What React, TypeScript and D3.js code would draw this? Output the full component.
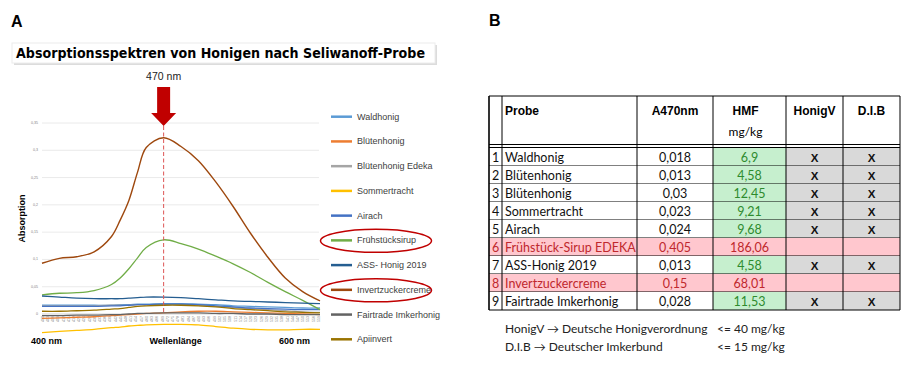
import React, { useEffect, useRef } from 'react';
import * as d3 from 'd3';

// Panel A: absorption spectra
const wavelengths = [400, 410, 420, 430, 440, 445, 450, 455, 460, 470, 480, 490, 500, 510, 520, 530, 540, 550, 560];

const waldhonig = [0.016, 0.016, 0.016, 0.016, 0.016, 0.017, 0.017, 0.018, 0.018, 0.019, 0.019, 0.018, 0.017, 0.015, 0.014, 0.013, 0.012, 0.011, 0.011];
const bluetenhonig = [-0.008, -0.007, -0.006, -0.005, -0.003, -0.002, -0.001, 0.0, 0.001, 0.002, 0.004, 0.005, 0.005, 0.004, 0.003, 0.002, 0.001, 0.0, -0.001];
const bluetenhonigEdeka = [0.015, 0.015, 0.015, 0.015, 0.016, 0.016, 0.016, 0.017, 0.017, 0.017, 0.017, 0.016, 0.014, 0.012, 0.01, 0.008, 0.006, 0.004, 0.003];
const sommertracht = [-0.034, -0.032, -0.03, -0.028, -0.025, -0.024, -0.022, -0.021, -0.02, -0.019, -0.019, -0.02, -0.023, -0.026, -0.028, -0.029, -0.029, -0.028, -0.028];
const airach = [0.014, 0.014, 0.014, 0.014, 0.015, 0.015, 0.016, 0.017, 0.017, 0.018, 0.018, 0.017, 0.015, 0.013, 0.011, 0.01, 0.009, 0.008, 0.008];
const fruehstuecksirup = [0.035, 0.038, 0.039, 0.043, 0.054, 0.066, 0.083, 0.103, 0.122, 0.136, 0.129, 0.119, 0.106, 0.092, 0.076, 0.058, 0.041, 0.025, 0.008];
const assHonig = [0.033, 0.031, 0.029, 0.028, 0.028, 0.028, 0.029, 0.03, 0.031, 0.031, 0.03, 0.028, 0.026, 0.024, 0.023, 0.022, 0.021, 0.02, 0.019];
const invertzuckercreme = [0.093, 0.102, 0.105, 0.114, 0.142, 0.172, 0.208, 0.26, 0.305, 0.323, 0.307, 0.281, 0.242, 0.197, 0.148, 0.104, 0.066, 0.041, 0.024];
const fairtrade = [-0.003, -0.003, -0.002, -0.002, -0.001, -0.001, 0.0, 0.001, 0.001, 0.002, 0.002, 0.002, 0.001, 0.001, 0.0, 0.0, -0.001, -0.001, -0.001];
const apiinvert = [0.005, 0.005, 0.006, 0.007, 0.009, 0.01, 0.012, 0.014, 0.015, 0.016, 0.016, 0.015, 0.013, 0.01, 0.008, 0.006, 0.004, 0.003, 0.002];

const seriesNames = ['Waldhonig', 'Blütenhonig', 'Blütenhonig Edeka', 'Sommertracht', 'Airach', 'Frühstücksirup', 'ASS- Honig 2019', 'Invertzuckercreme', 'Fairtrade Imkerhonig', 'Apiinvert'];
const seriesValues = [waldhonig, bluetenhonig, bluetenhonigEdeka, sommertracht, airach, fruehstuecksirup, assHonig, invertzuckercreme, fairtrade, apiinvert];
const seriesColors = ['#5B9BD5', '#ED7D31', '#A5A5A5', '#FFC000', '#4472C4', '#70AD47', '#255E91', '#9E480E', '#636363', '#997300'];
const circledSeries = ['Frühstücksirup', 'Invertzuckercreme'];

const yTicks = [0, 0.05, 0.1, 0.15, 0.2, 0.25, 0.3, 0.35];
const yTickLabels = ['0', '0,05', '0,1', '0,15', '0,2', '0,25', '0,3', '0,35'];
const xTickValues = d3.range(400, 561, 3);
const markedWavelength = 470;

// Panel B: table
const probeNames = ['Waldhonig', 'Blütenhonig', 'Blütenhonig', 'Sommertracht', 'Airach', 'Frühstück-Sirup EDEKA', 'ASS-Honig 2019', 'Invertzuckercreme', 'Fairtrade Imkerhonig'];
const a470Values = [0.018, 0.013, 0.03, 0.023, 0.024, 0.405, 0.013, 0.15, 0.028];
const hmfValues = [6.9, 4.58, 12.45, 9.21, 9.68, 186.06, 4.58, 68.01, 11.53];
const honigVLimit = 40;
const dibLimit = 15;
const headerLabels = ['', 'Probe', 'A470nm', 'HMF', 'HonigV', 'D.I.B'];
const footnotes = [
  ['HonigV \u2192 Deutsche Honigverordnung', '<= 40 mg/kg'],
  ['D.I.B \u2192 Deutscher Imkerbund', '<= 15 mg/kg'],
];

const de = (v: number) => String(v).replace('.', ',');

const App = () => {
  const svgRef = useRef<SVGSVGElement | null>(null);

  useEffect(() => {
    const svg = d3.select(svgRef.current);
    svg.selectAll('*').remove();

    const arial = 'Liberation Sans, Arial, sans-serif';
    const body = 'Lato, Open Sans, sans-serif';

    // ---------- Panel A ----------
    svg.append('text').attr('x', 11).attr('y', 27).text('A')
      .style('font-family', arial).style('font-weight', 'bold').style('font-size', '16px');

    svg.append('rect').attr('x', 14).attr('y', 45).attr('width', 423).attr('height', 20).attr('fill', '#dcdcdc');
    svg.append('rect').attr('x', 12).attr('y', 43).attr('width', 423).attr('height', 20)
      .attr('fill', '#fff').attr('stroke', '#ececec');
    svg.append('text').attr('x', 16).attr('y', 58)
      .attr('textLength', 409).attr('lengthAdjust', 'spacingAndGlyphs')
      .text('Absorptionsspektren von Honigen nach Seliwanoff-Probe')
      .style('font-family', 'DejaVu Sans, sans-serif').style('font-weight', 'bold').style('font-size', '13.5px');

    const x = d3.scaleLinear().domain([400, 560]).range([42, 320]);
    const y = d3.scaleLinear().domain([0, 0.35]).range([314, 123]);

    const grid = svg.append('g');
    yTicks.forEach((t, i) => {
      grid.append('line').attr('x1', 42).attr('x2', 319).attr('y1', y(t)).attr('y2', y(t))
        .attr('stroke', t === 0 ? '#c8c8c8' : '#e4e4e4').attr('stroke-width', 0.8);
      grid.append('text').attr('x', 38).attr('y', y(t)).attr('text-anchor', 'end')
        .attr('dominant-baseline', 'central').text(yTickLabels[i])
        .style('font-family', arial).style('font-size', '3.6px').style('fill', '#808080');
    });

    const xAxis = svg.append('g').attr('transform', `translate(0,${y(0)})`)
      .call(d3.axisBottom(x).tickValues(xTickValues).tickSize(0).tickPadding(1.5).tickFormat(d => String(d)));
    xAxis.select('.domain').remove();
    xAxis.selectAll('text')
      .attr('transform', 'rotate(-90)').attr('text-anchor', 'end').attr('dy', '0.32em').attr('x', -2).attr('y', 0)
      .style('font-family', arial).style('font-size', '3.6px').style('fill', '#7a7a7a');

    svg.append('text').attr('transform', `translate(25,${y(0.175)}) rotate(-90)`).attr('text-anchor', 'middle')
      .text('Absorption').style('font-family', arial).style('font-weight', 'bold').style('font-size', '9px');

    const line = d3.line<number>()
      .x((_, i) => x(wavelengths[i]))
      .y(d => y(d))
      .curve(d3.curveCatmullRom.alpha(0.5));

    seriesValues.forEach((vals, i) => {
      svg.append('path').attr('d', line(vals))
        .attr('fill', 'none').attr('stroke', seriesColors[i])
        .attr('stroke-width', i === 7 ? 1.4 : 1.3);
    });

    // 470 nm marker
    const mx = x(markedWavelength);
    svg.append('line').attr('x1', mx).attr('x2', mx).attr('y1', y(0.35) + 3).attr('y2', y(0))
      .attr('stroke', '#DD5555').attr('stroke-width', 1).attr('stroke-dasharray', '4,2.5');
    const tipY = y(0.35) + 3;
    svg.append('path')
      .attr('d', `M${mx - 6.5},${tipY - 39} H${mx + 6.5} V${tipY - 13} H${mx + 12.5} L${mx},${tipY} L${mx - 12.5},${tipY - 13} H${mx - 6.5} Z`)
      .attr('fill', '#C00000');
    svg.append('text').attr('x', mx).attr('y', 80).attr('text-anchor', 'middle')
      .text(`${markedWavelength} nm`).style('font-family', arial).style('font-size', '10.5px').style('fill', '#222');

    [['400 nm', 31, 'start'], ['Wellenlänge', mx + 12, 'middle'], ['600 nm', 310, 'end']].forEach(([t, tx, anchor]) => {
      svg.append('text').attr('x', tx as number).attr('y', 344).attr('text-anchor', anchor as string).text(t as string)
        .style('font-family', arial).style('font-weight', 'bold').style('font-size', '9px');
    });

    // legend
    const ly = d3.scalePoint<string>().domain(seriesNames).range([116.7, 339.3]);
    seriesNames.forEach((name, i) => {
      svg.append('line').attr('x1', 331).attr('x2', 352).attr('y1', ly(name)!).attr('y2', ly(name)!)
        .attr('stroke', seriesColors[i]).attr('stroke-width', 2.5);
      svg.append('text').attr('x', 357).attr('y', ly(name)!).attr('dominant-baseline', 'central').text(name)
        .style('font-family', arial).style('font-size', '9px').style('fill', '#404040');
    });
    circledSeries.forEach(name => {
      svg.append('ellipse').attr('cx', 376).attr('cy', ly(name)! + 0.5).attr('rx', 55.5).attr('ry', 11.5)
        .attr('fill', 'none').attr('stroke', '#C00000').attr('stroke-width', 1.5);
    });

    // ---------- Panel B ----------
    svg.append('text').attr('x', 489).attr('y', 26).text('B')
      .style('font-family', arial).style('font-weight', 'bold').style('font-size', '16px');

    const colEdges = [489, 502, 637, 713, 786, 843, 900];
    const headerTop = 96;
    const rows = d3.scaleBand<number>().domain(d3.range(probeNames.length)).range([148, 310]);
    const tb = svg.append('g');

    probeNames.forEach((name, r) => {
      const hmf = hmfValues[r];
      const okV = hmf <= honigVLimit;
      const okD = hmf <= dibLimit;
      const bad = !okV;
      const top = rows(r)!;
      const h = rows.bandwidth();
      const cy = top + h / 2;
      const fills = bad
        ? ['#FFC7CE', '#FFC7CE', '#FFC7CE', '#FFC7CE', '#FFC7CE', '#FFC7CE']
        : ['#fff', '#fff', '#fff', '#C6EFCE', '#D9D9D9', '#D9D9D9'];
      fills.forEach((f, c) => {
        tb.append('rect').attr('x', colEdges[c]).attr('y', top).attr('width', colEdges[c + 1] - colEdges[c]).attr('height', h).attr('fill', f);
      });
      const txtColor = bad ? '#C0282D' : '#111';
      const cell = (c: number, t: string, color: string, anchor = 'middle', bold = false) => {
        const cx = anchor === 'middle' ? (colEdges[c] + colEdges[c + 1]) / 2 : colEdges[c] + 3;
        tb.append('text').attr('x', cx).attr('y', cy + 0.5).attr('text-anchor', anchor).attr('dominant-baseline', 'central')
          .text(t).style('font-family', bold ? arial : body).style('font-weight', bold ? 'bold' : 'normal')
          .style('font-size', bold ? '11.5px' : '12.5px').style('fill', color);
      };
      cell(0, String(r + 1), txtColor);
      cell(1, name, txtColor, 'start');
      cell(2, de(a470Values[r]), txtColor);
      cell(3, de(hmf), bad ? '#C0282D' : '#2E8B2E');
      if (okV) cell(4, 'X', '#111', 'middle', true);
      if (okD) cell(5, 'X', '#111', 'middle', true);
      tb.append('line').attr('x1', colEdges[0]).attr('x2', colEdges[6]).attr('y1', top + h).attr('y2', top + h)
        .attr('stroke', '#000').attr('stroke-width', 1);
    });

    // header
    headerLabels.forEach((t, c) => {
      if (!t) return;
      const cx = c === 1 ? colEdges[1] + 3 : (colEdges[c] + colEdges[c + 1]) / 2 - (c === 3 ? 4 : 0);
      tb.append('text').attr('x', cx).attr('y', 111).attr('text-anchor', c === 1 ? 'start' : 'middle')
        .attr('dominant-baseline', 'central').text(t)
        .style('font-family', arial).style('font-weight', 'bold').style('font-size', '12px');
    });
    tb.append('text').attr('x', (colEdges[3] + colEdges[4]) / 2 - 4).attr('y', 131).attr('text-anchor', 'middle')
      .attr('dominant-baseline', 'central').text('mg/kg').style('font-family', body).style('font-size', '12px');

    // borders
    tb.append('line').attr('x1', colEdges[0]).attr('x2', colEdges[6]).attr('y1', headerTop).attr('y2', headerTop).attr('stroke', '#000');
    tb.append('line').attr('x1', colEdges[0]).attr('x2', colEdges[6]).attr('y1', 144.5).attr('y2', 144.5).attr('stroke', '#000');
    tb.append('line').attr('x1', colEdges[0]).attr('x2', colEdges[6]).attr('y1', 147.5).attr('y2', 147.5).attr('stroke', '#000');
    colEdges.forEach(cx => {
      tb.append('line').attr('x1', cx).attr('x2', cx).attr('y1', headerTop).attr('y2', 310).attr('stroke', '#000')
        .attr('stroke-width', cx === colEdges[0] ? 1.6 : 1);
    });

    footnotes.forEach(([left, right], i) => {
      const fy = 328 + i * 18;
      tb.append('text').attr('x', 505).attr('y', fy).attr('dominant-baseline', 'central').text(left)
        .style('font-family', body).style('font-size', '12px').style('fill', '#222');
      tb.append('text').attr('x', 717).attr('y', fy).attr('dominant-baseline', 'central').text(right)
        .style('font-family', body).style('font-size', '12px').style('fill', '#222');
    });
  }, []);

  return (
    <svg
      ref={svgRef}
      width={906}
      height={366}
      style={{ position: 'absolute', left: 0, top: 0, background: '#fff', display: 'block' }}
    />
  );
};

export default App;
